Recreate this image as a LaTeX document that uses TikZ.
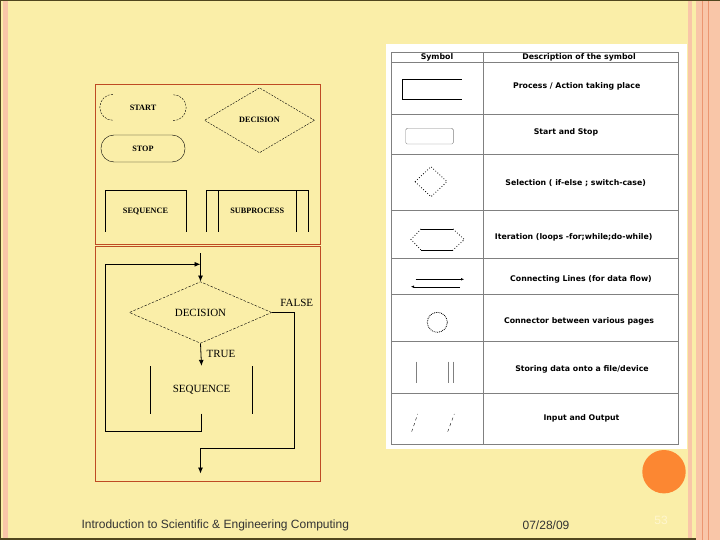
\documentclass[tikz,border=0pt]{standalone}
\usepackage{fontspec}
\setmainfont{Liberation Serif}
\newfontfamily\tabfont{DejaVu Sans}
\newfontfamily\footfont{Liberation Sans}
\usetikzlibrary{arrows.meta,positioning,shapes.geometric}
\definecolor{slideyellow}{RGB}{250,238,168}
\definecolor{slidesalmon}{RGB}{249,198,168}
\definecolor{stripeorange}{RGB}{236,150,112}
\definecolor{frameolive}{RGB}{80,70,30}
\definecolor{boxred}{RGB}{190,75,35}
\definecolor{tablegrey}{gray}{0.5}
\definecolor{dotorange}{RGB}{252,135,50}
\definecolor{pagecream}{RGB}{255,246,205}

\begin{document}
\begin{tikzpicture}[x=1pt,y=-1pt,>={Latex[length=6pt,width=5pt]},
  chartlabel/.style={font=\fontsize{11}{13}\selectfont},
  symlabel/.style={font=\bfseries\fontsize{8.2}{9}\selectfont},
  tablabel/.style={font=\tabfont\bfseries\fontsize{7.8}{9}\selectfont},
  footlabel/.style={font=\footfont\fontsize{12}{14}\selectfont},
  flowline/.style={line width=0.8pt}]
\useasboundingbox (0,0) rectangle (720,540);
% slide background
\fill[slideyellow] (0,0) rectangle (720,540);
\fill[slidesalmon] (3,0) rectangle (8,540);
\fill[slidesalmon] (688,0) rectangle (720,540);
\fill[slideyellow] (692,0) rectangle (696,540);
\draw[stripeorange] (702,0) -- (702,540);
\draw[stripeorange] (708,0) -- (708,540);
\draw[frameolive, line width=1.5pt] (720,0.7) -- (0.7,0.7) -- (0.7,539) -- (696,539);

% upper box: the basic symbols
\draw[boxred, line width=1pt] (95,85) rectangle (320,244);
\node[symlabel, minimum width=84pt, minimum height=26pt] (start) at (143,107.5) {START};
\draw[dash pattern=on 2pt off 1.2pt] ([xshift=12pt]start.north west) arc[start angle=90, end angle=270, radius=13pt];
\draw[dash pattern=on 2pt off 1.2pt] ([xshift=-12pt]start.south east) arc[start angle=-90, end angle=90, radius=13pt];
\node[symlabel, draw, rounded corners=13pt, minimum width=84pt, minimum height=27pt] (stop) at (143,148.5) {STOP};
\node[symlabel, diamond, draw, dash pattern=on 2pt off 1.2pt, inner sep=0pt,
  minimum width=110pt, minimum height=65pt] (decsym) at (259.5,120.3) {DECISION};
\node[symlabel, minimum width=80.4pt, minimum height=41pt] (seqsym) at (145.5,211.2) {SEQUENCE};
\draw (seqsym.south west) -- (seqsym.north west) -- (seqsym.north east) -- (seqsym.south east);
\node[symlabel, minimum width=101pt, minimum height=41pt] (subsym) at (257.2,211.2) {SUBPROCESS};
\draw (subsym.south west) -- (subsym.north west) -- (subsym.north east) -- (subsym.south east);
\draw ([xshift=11.6pt]subsym.north west) -- ([xshift=11.6pt]subsym.south west);
\draw ([xshift=-12pt]subsym.north east) -- ([xshift=-12pt]subsym.south east);

% lower box: a loop
\draw[boxred, line width=1pt] (95,246.7) rectangle (320.5,481);
\node[chartlabel, diamond, draw, dash pattern=on 2.5pt off 1.5pt, inner sep=0pt,
  minimum width=142.4pt, minimum height=61.6pt] (dec) at (200.5,312.5) {DECISION};
\node[chartlabel, minimum width=101.6pt, minimum height=47.3pt] (seq) at (201.5,389.7) {SEQUENCE};
\draw[flowline] (seq.south west) -- (seq.north west);
\draw[flowline] (seq.south east) -- (seq.north east);
\coordinate (entry) at (200.5,253.3);
\coordinate (loopleft) at (105.7,431);
\coordinate (loopend) at (200.5,264.3);
\coordinate (exitright) at (294,448.3);
\coordinate (exitend) at (200.5,473.5);
\draw[flowline,->] (entry) -- (dec.north);
\draw[flowline,->] (dec.south) -- (seq.north) node[chartlabel, pos=0.45, right=2pt] (truelbl) {TRUE};
\draw[flowline,->] (seq.south) |- (loopleft) |- (loopend);
\draw[flowline,->] (dec.east) -| (exitright) -| (exitend);
\node[chartlabel] (falselbl) at (296.7,303.3) {FALSE};

% table of symbols
\fill[white] (386,44) rectangle (687,449);
\draw[tablegrey, line width=0.8pt] (391,52.7) rectangle (678,444);
\draw[tablegrey, line width=0.8pt] (483,52.7) -- (483,444);
\foreach \y in {62,114,154.7,210,258.3,294,341.7,393}
  \draw[tablegrey, line width=0.8pt] (391,\y) -- (678,\y);
\node[tablabel] (hsym) at (437,57.4) {Symbol};
\node[tablabel] (hdesc) at (579,57.4) {Description of the symbol};
\node[tablabel] (dproc) at (576.7,86.7) {Process / Action taking place};
\node[tablabel] (dterm) at (566,132.7) {Start and Stop};
\node[tablabel] (dsel) at (575.7,183.3) {Selection ( if-else ; switch-case)};
\node[tablabel] (diter) at (573.7,237.3) {Iteration (loops -for;while;do-while)};
\node[tablabel] (dline) at (581,279.3) {Connecting Lines (for data flow)};
\node[tablabel] (dconn) at (579,321.7) {Connector between various pages};
\node[tablabel] (dstore) at (582,369) {Storing data onto a file/device};
\node[tablabel] (dio) at (581.5,418.3) {Input and Output};
% symbol drawings
\draw[line width=1pt] (461.7,79.3) -- (402.3,79.3) -- (402.3,100) -- (461.7,100);
\draw[tablegrey, rounded corners=1.5pt] (405.7,128.3) rectangle (453.3,144);
\draw[dotted, thick] (415,181.7) -- (431,166.7) -- (447,181.7) -- (431,196.7) -- cycle;
\draw (421,229) -- (453,229);
\draw (421,250) -- (453,250);
\draw[dotted, thick] (421,229) -- (411,239.5) -- (421,250);
\draw[dotted, thick] (453,229) -- (464.3,239.5) -- (453,250);
\draw[-{Latex[length=3pt,width=2.5pt]}] (415.7,279.3) -- (464,279.3);
\draw[-{Latex[length=3pt,width=2.5pt]}] (460,286.7) -- (411,286.7);
\draw[densely dotted, thick] (437.3,322.3) circle[radius=10pt];
\draw[tablegrey, thick] (416,361.7) -- (416,383.3);
\draw[tablegrey, thick] (448.3,361.7) -- (448.3,383.3);
\draw[tablegrey, thick] (453.3,361.7) -- (453.3,383.3);
\draw[dashed] (411.7,431.7) -- (417.7,414);
\draw[dashed] (447.7,431.7) -- (454.3,414);

% footer
\fill[dotorange] (664,471.7) circle[radius=21.7pt];
\node[footlabel, text=black!80, anchor=west] (title) at (78,525.5) {Introduction to Scientific \& Engineering Computing};
\node[footlabel, text=black!80] (date) at (546,525.5) {07/28/09};
\node[footlabel, text=pagecream] (pagenum) at (661,520) {53};
\end{tikzpicture}
\end{document}
